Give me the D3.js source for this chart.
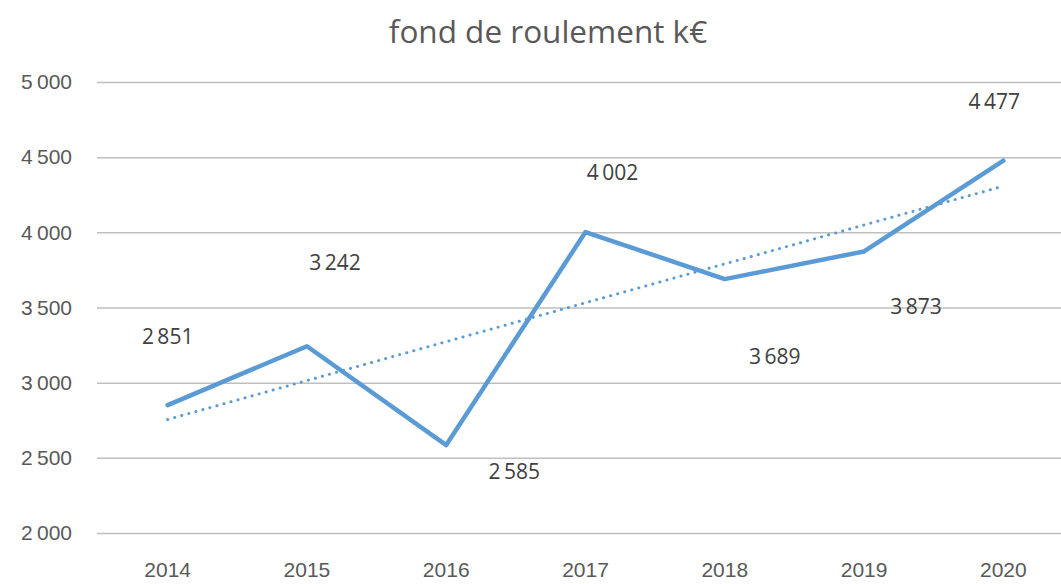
<!DOCTYPE html>
<html>
<head>
<meta charset="utf-8">
<script src="https://cdn.jsdelivr.net/npm/d3@7"></script>
<style>
  html, body { margin: 0; padding: 0; background: #fff; }
  svg { display: block; }
</style>
</head>
<body>
<div id="chart"></div>
<script>
const years = ["2014", "2015", "2016", "2017", "2018", "2019", "2020"];
const values = [2851, 3242, 2585, 4002, 3689, 3873, 4477];
const yTicks = [2000, 2500, 3000, 3500, 4000, 4500, 5000];
const title = "fond de roulement k€";

// label placement as Excel left it (offset from the point, px)
const labelOffsets = [[0, -69], [28, -84], [68, 26], [27, -60], [50, 77], [52, 55], [-9, -60]];

const width = 1061, height = 584;
const margin = {top: 82, right: -12, bottom: 51, left: 98};

const fmt = v => d3.format(",")(v).replace(/,/g, "\u2009");

const svg = d3.select("#chart").append("svg")
  .attr("width", width)
  .attr("height", height)
  .attr("font-family", "'Open Sans', sans-serif");

const x = d3.scaleBand()
  .domain(years)
  .range([margin.left, width - margin.right]);

const y = d3.scaleLinear()
  .domain([2000, 5000])
  .range([height - margin.bottom, margin.top]);

const cx = d => x(d) + x.bandwidth() / 2;

// gridlines + y labels
const yAxis = d3.axisLeft(y)
  .tickValues(yTicks)
  .tickSize(-(width - margin.right - margin.left + 2))
  .tickPadding(25)
  .tickFormat(fmt);

svg.append("g")
  .attr("transform", `translate(${margin.left - 1},0)`)
  .call(yAxis)
  .call(g => g.select(".domain").remove())
  .call(g => g.selectAll(".tick line")
    .attr("stroke", "#bfbfbf")
    .attr("stroke-width", 1.5))
  .call(g => g.selectAll(".tick text")
    .attr("fill", "#595959")
    .attr("font-size", 21));

// x labels
const xAxis = d3.axisBottom(x).tickSize(0).tickPadding(29);
svg.append("g")
  .attr("transform", `translate(0,${height - margin.bottom})`)
  .call(xAxis)
  .call(g => g.select(".domain").remove())
  .call(g => g.selectAll(".tick text")
    .attr("fill", "#595959")
    .attr("font-size", 21));

// linear trend (least squares over the series)
const n = values.length;
const xm = (n - 1) / 2, ym = d3.mean(values);
const slope = d3.sum(values, (v, i) => (i - xm) * (v - ym)) / d3.sum(values, (v, i) => (i - xm) ** 2);
const trendEnds = [0, n - 1].map(i => ({year: years[i], v: ym + slope * (i - xm)}));

svg.append("path")
  .attr("fill", "none")
  .attr("stroke", "#5b9bd5")
  .attr("stroke-width", 3)
  .attr("stroke-linecap", "round")
  .attr("stroke-dasharray", "0.1,7.2")
  .attr("d", d3.line().x(d => cx(d.year)).y(d => y(d.v))(trendEnds));

// series line
svg.append("path")
  .attr("fill", "none")
  .attr("stroke", "#5b9bd5")
  .attr("stroke-width", 4.5)
  .attr("stroke-linejoin", "round")
  .attr("stroke-linecap", "round")
  .attr("d", d3.line().x((d, i) => cx(years[i])).y(d => y(d))(values));

// data labels
svg.append("g")
  .selectAll("text")
  .data(values)
  .join("text")
  .attr("x", (d, i) => cx(years[i]) + labelOffsets[i][0])
  .attr("y", (d, i) => y(d) + labelOffsets[i][1])
  .attr("text-anchor", "middle")
  .attr("dominant-baseline", "central")
  .attr("fill", "#404040")
  .attr("font-size", 21)
  .text(fmt);

svg.append("text")
  .attr("x", 548)
  .attr("y", 30)
  .attr("text-anchor", "middle")
  .attr("dominant-baseline", "central")
  .attr("fill", "#595959")
  .attr("font-size", 31.5)
  .text(title);
</script>
</body>
</html>
